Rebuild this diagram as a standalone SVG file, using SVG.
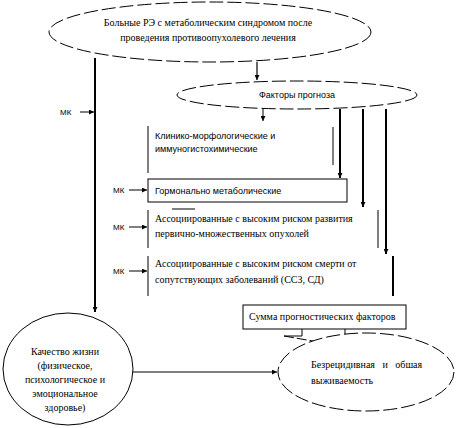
<svg xmlns="http://www.w3.org/2000/svg" width="458" height="428" viewBox="0 0 458 428">
<style>
.t{font-family:"Liberation Serif","Times New Roman",serif;font-size:10px;fill:#000}
.s{font-family:"Liberation Sans",Arial,sans-serif;font-size:9px;fill:#000}
.mk{font-family:"Liberation Sans",Arial,sans-serif;font-size:8px;fill:#000}
.dash{fill:#fff;stroke:#000;stroke-width:1;stroke-dasharray:14 4}
.solid{fill:#fff;stroke:#000;stroke-width:1}
.thick{fill:none;stroke:#000;stroke-width:2}
.med{fill:none;stroke:#000;stroke-width:1.2}
.thin{fill:none;stroke:#000;stroke-width:1}
</style>
<defs>
<marker id="ah" viewBox="0 0 10 10" refX="10" refY="5" markerWidth="5" markerHeight="5" markerUnits="userSpaceOnUse" orient="auto">
<path d="M0,0 L10,5 L0,10 z" fill="#000"/>
</marker>
</defs>
<rect width="458" height="428" fill="#fff"/>
<g id="connectors">
<path class="thick" d="M95,58 V312" marker-end="url(#ah)"/>
<path class="med" d="M257,62 V80" marker-end="url(#ah)"/>
<path class="thin" d="M263,109 V121" marker-end="url(#ah)"/>
<path class="thick" d="M340,109 V178" marker-end="url(#ah)"/>
<path class="thick" d="M363,109 V207" marker-end="url(#ah)"/>
<path class="thick" d="M386,109 V254" marker-end="url(#ah)"/>
<path class="thin" d="M80,112 H94" marker-end="url(#ah)"/>
<path class="thin" d="M129,190 H147" marker-end="url(#ah)"/>
<path class="thin" d="M129,227 H147" marker-end="url(#ah)"/>
<path class="thin" d="M129,271 H147" marker-end="url(#ah)"/>
<path class="thin" d="M133,372 H277" marker-end="url(#ah)"/>
<path class="thin" d="M148,126 V173"/>
<path class="thin" d="M333,127 V165"/>
<path class="thin" d="M172,209 H195"/>
<path class="thin" d="M148,210 V248"/>
<path class="thin" d="M378,210 V248"/>
<path class="thin" d="M148,256 V296"/>
<path class="thick" d="M393,256 V296"/>
<text class="mk" x="60" y="115">МК</text>
<text class="mk" x="113" y="193">МК</text>
<text class="mk" x="113" y="230">МК</text>
<text class="mk" x="113" y="274">МК</text>
</g>
<g id="patients">
<ellipse class="dash" cx="210" cy="32" rx="161" ry="30"/>
<text class="t" x="208" y="26" text-anchor="middle">Больные РЭ с метаболическим синдромом после</text>
<text class="t" x="208" y="41" text-anchor="middle">проведения противоопухолевого лечения</text>
</g>
<g id="factors">
<ellipse class="dash" cx="297" cy="95" rx="120" ry="14"/>
<text class="s" x="297" y="98" text-anchor="middle">Факторы прогноза</text>
</g>
<g id="clinical">
<text class="s" x="155" y="139">Клинико-морфологические и</text>
<text class="s" x="155" y="152">иммуногистохимические</text>
</g>
<g id="hormonal">
<rect class="solid" x="148" y="179" width="199" height="23"/>
<text class="s" x="155" y="194">Гормонально метаболические</text>
</g>
<g id="multiple">
<text class="t" x="155" y="222">Ассоциированные с высоким риском развития</text>
<text class="t" x="155" y="237">первично-множественных опухолей</text>
</g>
<g id="comorbid">
<text class="t" x="155" y="267">Ассоциированные  с высоким риском смерти от</text>
<text class="t" x="155" y="283">сопутствующих заболеваний (ССЗ, СД)</text>
</g>
<g id="sum">
<path class="thin" d="M302,329 V336 H284 M345,329 V336 H367"/>
<path class="thin" d="M284,336 L324,343 L367,336" stroke-dasharray="10 3"/>
<rect class="solid" x="243" y="305" width="163" height="24"/>
<text class="t" x="249" y="320">Сумма прогностических факторов</text>
</g>
<g id="quality">
<ellipse class="solid" cx="68" cy="369" rx="65" ry="56"/>
<text class="t" x="65" y="355" text-anchor="middle">Качество жизни</text>
<text class="t" x="65" y="369" text-anchor="middle">(физическое,</text>
<text class="t" x="65" y="383" text-anchor="middle">психологическое и</text>
<text class="t" x="65" y="397" text-anchor="middle">эмоциональное</text>
<text class="t" x="65" y="411" text-anchor="middle">здоровье)</text>
</g>
<g id="survival">
<ellipse class="dash" cx="366" cy="372" rx="88" ry="39"/>
<text class="t" x="311" y="368" xml:space="preserve">Безрецидивная   и   обшая</text>
<text class="t" x="311" y="384">выживаемость</text>
</g>
</svg>
